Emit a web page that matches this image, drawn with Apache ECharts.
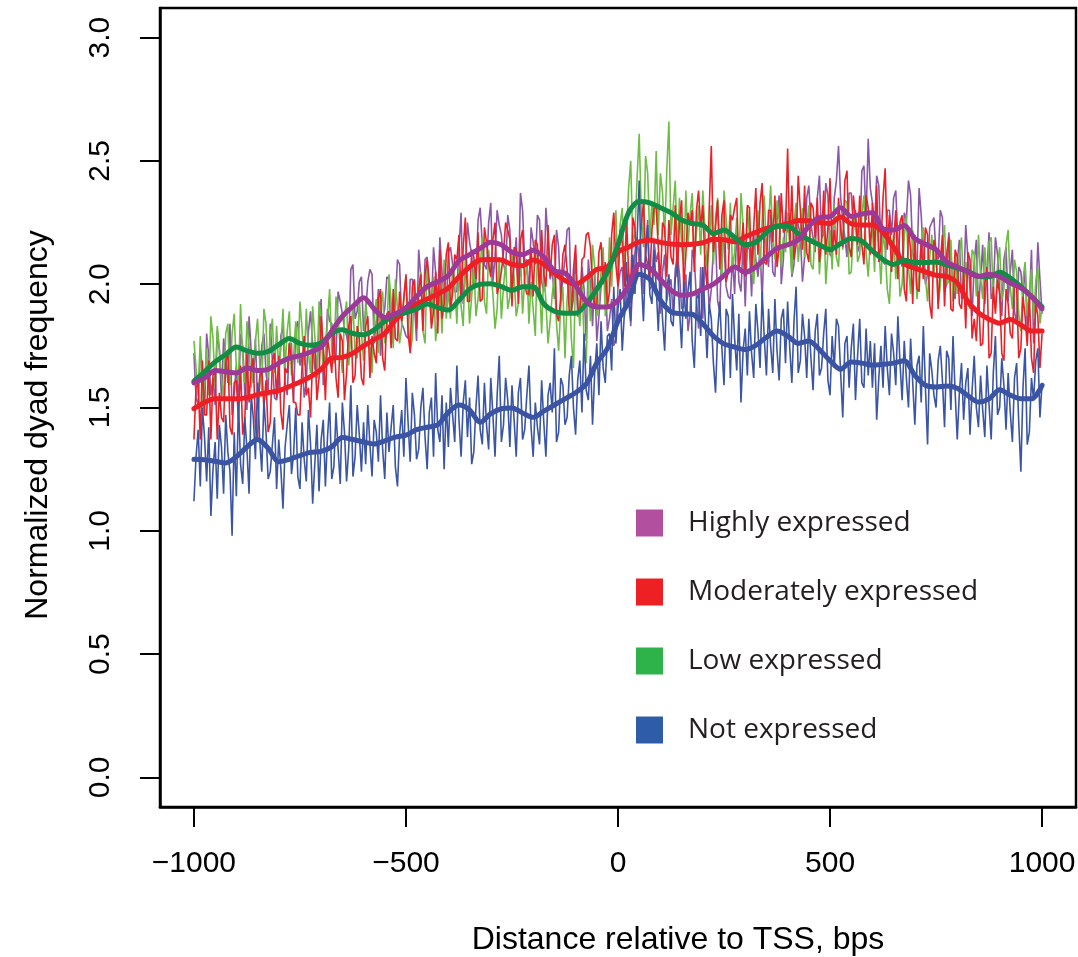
<!DOCTYPE html>
<html>
<head>
<meta charset="utf-8">
<title>Normalized dyad frequency around TSS</title>
<script src="https://cdn.jsdelivr.net/npm/echarts@6/dist/echarts.min.js"></script>
<style>
  html, body { margin: 0; padding: 0; background: #fff; }
  #chart { width: 1078px; height: 957px; }
</style>
</head>
<body>
<div id="chart"></div>
<script>
// raw profiles, one value every 5 bp from -1000 to 1000
var highRaw = [
  1.72,1.54,1.51,1.74,1.66,1.47,1.80,1.71,1.55,1.62,1.51,1.81,1.73,1.54,1.78,1.70,1.60,1.84,1.47,1.56,1.67,1.51,1.80,1.75,1.55,1.49,1.87,1.73,1.60,1.78,1.53,1.61,1.75,1.80,1.64,1.56,1.84,1.69,1.54,1.53,
  1.60,1.79,1.83,1.60,1.55,1.76,1.76,1.52,1.82,1.85,1.67,1.71,1.54,1.60,1.81,1.89,1.75,1.66,1.62,1.83,1.94,1.59,1.70,1.90,1.85,1.84,1.68,1.71,1.97,1.93,1.88,1.82,1.79,1.74,2.06,2.08,1.86,1.89,2.01,2.03,
  1.81,1.89,2.01,2.06,2.04,1.76,1.85,1.98,1.71,1.86,1.90,2.03,2.02,1.76,1.77,1.93,2.10,2.08,1.84,1.82,1.79,1.78,2.02,2.02,1.92,1.77,2.14,2.03,1.85,2.10,2.11,1.95,1.90,2.15,2.05,1.91,2.19,2.05,1.94,1.89,
  2.13,2.15,2.08,1.97,1.97,2.15,2.29,1.92,2.04,2.25,2.17,2.12,1.99,2.01,2.26,2.31,2.16,2.08,2.06,2.25,2.33,2.01,2.11,2.30,2.24,2.20,2.08,2.05,2.28,2.22,1.98,2.08,2.19,1.98,2.37,2.30,2.09,2.10,1.95,2.23,
  2.17,2.08,2.28,2.26,2.01,1.97,2.31,2.18,2.02,2.06,1.94,2.22,2.15,1.94,2.03,2.10,2.22,2.23,1.89,1.94,2.12,1.87,1.87,2.07,1.98,1.77,2.10,2.00,1.83,2.04,1.77,1.87,1.99,2.06,2.04,1.81,1.86,1.94,1.75,1.78,
  1.99,2.05,2.07,1.87,1.94,2.04,1.83,2.02,2.13,2.19,2.10,2.08,1.96,2.14,2.26,1.98,1.99,2.18,2.09,2.13,1.88,2.05,2.12,1.93,1.99,2.02,1.87,2.06,2.12,2.04,1.90,1.91,2.04,1.81,1.88,2.14,2.10,1.94,1.82,2.07,
  1.86,2.12,2.09,1.90,1.98,2.15,2.19,1.93,1.89,2.18,2.16,1.99,1.95,1.94,2.11,1.96,2.24,2.01,1.97,2.17,1.91,2.16,2.14,1.95,2.20,2.10,2.03,2.15,1.93,2.22,2.14,2.07,2.28,2.05,2.03,2.26,2.36,2.00,2.10,2.30,
  2.21,2.27,2.03,2.08,2.30,2.24,2.20,2.01,2.11,2.35,2.40,2.24,2.19,2.13,2.35,2.44,2.19,2.20,2.41,2.36,2.12,2.11,2.35,2.42,2.56,2.35,2.26,2.19,2.11,2.37,2.37,2.23,2.30,2.13,2.16,2.46,2.48,2.26,2.59,2.39,
  2.33,2.23,2.44,2.40,2.15,2.09,2.08,2.30,2.30,2.20,2.35,2.38,2.18,2.12,2.07,2.29,2.26,2.42,2.36,2.13,2.08,2.06,2.39,2.28,2.11,2.00,2.04,2.23,2.25,2.27,2.12,2.10,2.30,2.27,1.97,2.00,2.21,2.12,1.98,1.94,
  2.09,2.18,1.94,1.97,2.24,2.11,1.98,1.87,2.09,2.18,1.89,2.03,2.16,1.92,2.05,2.21,1.94,1.97,2.19,2.12,1.97,1.87,2.10,2.15,1.93,2.05,2.14,1.89,1.84,2.07,2.05,1.94,2.08,1.82,1.92,2.14,1.76,1.91,2.17,2.02,
  1.88
];
var modRaw = [
  1.37,1.58,1.60,1.37,1.69,1.47,1.47,1.69,1.37,1.63,1.65,1.37,1.56,1.46,1.44,1.68,1.73,1.42,1.39,1.60,1.61,1.45,1.67,1.39,1.45,1.72,1.52,1.66,1.70,1.42,1.37,1.62,1.66,1.50,1.61,1.40,1.44,1.69,1.72,1.54,
  1.71,1.48,1.41,1.66,1.64,1.76,1.69,1.52,1.52,1.47,1.47,1.67,1.79,1.55,1.58,1.46,1.71,1.76,1.53,1.62,1.87,1.74,1.53,1.78,1.72,1.64,1.82,1.62,1.54,1.80,1.77,1.53,1.64,1.83,1.87,1.60,1.63,1.83,1.78,1.62,
  1.59,1.83,1.87,1.62,1.79,1.72,1.68,1.94,1.98,1.70,1.65,1.88,1.89,1.74,1.98,1.78,1.77,1.97,1.85,1.94,2.04,1.80,1.72,1.99,2.02,1.82,1.98,2.04,1.81,2.04,2.10,2.01,1.82,1.89,2.05,1.80,2.14,1.86,1.92,2.12,
  2.17,1.90,1.96,2.12,2.10,2.20,1.93,2.15,2.27,1.93,1.93,2.14,2.11,2.02,2.21,1.93,1.94,2.23,2.17,2.08,2.03,2.18,2.25,1.96,2.00,2.05,2.13,2.25,2.22,2.18,1.91,2.15,2.14,1.92,2.18,2.22,2.00,1.96,1.96,2.15,
  1.95,2.18,2.16,1.95,2.22,2.04,1.99,2.24,2.03,2.16,2.20,1.88,1.85,1.95,2.12,2.16,2.06,1.89,1.88,2.06,2.16,1.91,1.88,2.10,2.11,2.20,2.21,2.15,1.99,1.92,1.90,2.13,2.17,2.00,2.09,1.91,1.97,2.20,2.29,2.08,
  1.99,2.22,2.17,1.99,2.27,2.05,2.00,2.27,2.23,2.03,2.10,2.24,2.33,2.12,2.08,2.02,2.22,2.31,2.31,2.15,2.00,2.25,2.23,2.03,2.26,2.11,2.08,2.32,2.03,2.26,2.34,1.99,2.12,2.29,2.24,2.30,2.05,2.30,2.38,2.23,
  2.32,2.08,1.99,2.30,2.56,2.13,2.23,2.34,2.06,2.28,2.34,2.01,2.05,2.28,2.26,2.31,2.35,2.06,2.13,2.25,2.03,2.32,2.31,2.05,2.23,2.39,2.12,2.33,2.41,2.09,2.08,2.30,2.30,2.17,2.36,2.07,2.15,2.37,2.21,2.22,
  2.55,2.16,2.40,2.10,2.16,2.44,2.30,2.14,2.40,2.13,2.09,2.33,2.31,2.19,2.35,2.09,2.17,2.38,2.12,2.23,2.43,2.13,2.22,2.12,2.35,2.22,2.15,2.42,2.46,2.15,2.11,2.36,2.27,2.16,2.36,2.16,2.08,2.36,2.31,2.12,
  2.33,2.12,2.40,2.09,2.16,2.35,2.47,2.14,2.28,2.05,2.17,2.30,2.02,2.25,2.28,1.98,1.93,2.22,2.14,1.92,2.20,1.98,1.97,2.18,2.02,2.23,2.20,1.92,1.86,2.18,2.14,1.90,2.09,2.20,1.91,2.12,2.19,1.90,1.89,2.14,
  2.11,1.92,1.90,2.05,1.82,2.13,2.10,1.78,1.86,1.77,1.97,1.75,1.76,2.00,2.07,1.70,1.72,1.99,1.88,2.02,1.96,1.72,1.69,1.98,1.92,1.80,1.78,2.01,1.99,1.70,1.74,1.95,1.87,1.75,1.96,1.70,1.64,1.93,1.87,1.66,
  1.80
];
var lowRaw = [
  1.77,1.66,1.55,1.79,1.50,1.60,1.74,1.55,1.87,1.78,1.58,1.83,1.74,1.62,1.54,1.80,1.84,1.59,1.80,1.88,1.66,1.61,1.92,1.70,1.60,1.85,1.75,1.58,1.67,1.77,1.86,1.68,1.56,1.90,1.84,1.62,1.79,1.86,1.64,1.83,
  1.65,1.74,1.90,1.66,1.81,1.89,1.63,1.70,1.85,1.68,1.93,1.82,1.67,1.90,1.72,1.64,1.91,1.79,1.62,1.93,1.86,1.66,1.72,1.85,1.98,1.73,1.68,1.95,1.86,1.74,1.64,1.87,1.93,1.67,1.80,1.92,1.72,1.70,1.94,1.80,
  1.69,1.93,1.84,1.75,1.64,1.86,1.94,1.72,1.91,1.97,1.76,1.81,2.04,1.93,1.74,2.02,1.90,1.76,1.83,1.95,2.03,1.85,1.73,1.78,2.01,1.83,1.96,2.05,1.81,1.76,2.08,1.97,1.84,2.03,1.77,1.85,1.99,1.80,2.10,1.86,
  1.98,1.86,2.08,2.00,1.84,2.06,1.91,1.83,2.11,2.04,1.84,1.95,2.09,1.87,1.94,2.07,2.19,1.93,1.88,2.14,2.05,1.96,1.82,1.90,2.11,1.86,1.99,2.09,1.90,1.95,2.12,2.03,1.87,1.92,2.12,1.88,2.02,2.08,1.84,2.01,
  1.90,1.79,2.14,2.01,1.80,2.06,1.93,1.76,1.85,1.96,2.03,1.84,1.73,1.91,1.99,1.70,1.94,2.03,1.78,1.66,2.04,1.95,1.83,2.01,1.77,1.68,2.02,1.85,2.16,2.07,1.87,1.92,2.05,2.15,1.87,1.96,2.19,1.99,2.19,2.30,
  2.02,2.24,2.31,2.05,2.20,2.39,2.50,2.16,2.21,2.43,2.61,2.28,2.15,2.52,2.45,2.18,2.33,2.24,2.54,2.20,2.45,2.37,2.19,2.46,2.66,2.20,2.31,2.42,2.12,2.35,2.15,2.08,2.38,2.16,2.28,2.37,2.10,2.21,2.32,2.12,
  2.38,2.22,2.07,2.16,2.32,2.08,2.27,2.35,2.11,2.02,2.38,2.27,2.14,2.33,2.06,2.13,2.27,2.05,2.37,2.24,2.05,2.31,2.20,2.10,2.00,2.19,2.30,2.06,2.26,2.36,2.12,2.24,2.40,2.18,2.10,2.34,2.26,2.07,2.19,2.13,
  2.29,2.17,2.04,2.25,2.33,2.09,2.20,2.31,2.11,2.24,2.32,2.08,2.06,2.22,2.29,2.04,2.19,2.30,2.00,2.13,2.22,2.06,2.32,2.11,2.07,2.26,2.14,2.34,2.33,2.04,2.05,2.21,2.28,2.09,2.12,2.28,2.36,2.13,2.03,2.18,
  2.23,2.05,2.32,2.16,2.00,2.21,2.14,1.98,1.92,2.13,2.20,2.02,2.16,1.95,2.00,2.19,2.28,2.07,1.96,2.22,2.11,1.94,2.04,2.17,2.23,2.02,1.93,2.11,2.20,2.04,2.15,1.92,1.99,2.16,2.24,2.00,2.01,2.18,1.93,2.12,
  1.96,2.12,2.19,1.97,2.09,1.92,1.90,2.14,2.12,1.95,2.20,2.03,1.94,2.15,2.00,2.17,2.19,1.95,1.90,2.08,2.15,1.94,1.98,2.16,2.22,1.99,1.90,2.10,2.05,1.88,1.81,2.02,2.09,1.87,1.96,2.06,1.86,2.01,2.07,1.84,
  1.91
];
var notRaw = [
  1.12,1.30,1.41,1.18,1.50,1.38,1.20,1.42,1.06,1.25,1.36,1.13,1.43,1.34,1.15,1.47,1.32,1.24,0.98,1.40,1.14,1.52,1.27,1.19,1.46,1.33,1.15,1.55,1.46,1.29,1.60,1.37,1.24,1.53,1.40,1.21,1.24,1.35,1.46,1.17,
  1.37,1.25,1.09,1.34,1.43,1.51,1.23,1.31,1.50,1.22,1.17,1.44,1.29,1.20,1.49,1.35,1.11,1.27,1.43,1.16,1.37,1.45,1.18,1.38,1.52,1.21,1.26,1.48,1.33,1.19,1.52,1.40,1.20,1.33,1.59,1.22,1.30,1.51,1.39,1.24,
  1.44,1.27,1.51,1.35,1.22,1.45,1.40,1.28,1.55,1.33,1.21,1.48,1.32,1.42,1.51,1.26,1.18,1.39,1.49,1.30,1.62,1.44,1.28,1.56,1.47,1.29,1.33,1.50,1.58,1.38,1.25,1.48,1.54,1.30,1.64,1.41,1.36,1.55,1.25,1.52,
  1.34,1.58,1.47,1.36,1.67,1.45,1.30,1.52,1.61,1.38,1.54,1.27,1.32,1.50,1.63,1.41,1.35,1.60,1.43,1.33,1.62,1.47,1.30,1.55,1.71,1.36,1.43,1.62,1.53,1.34,1.59,1.45,1.30,1.56,1.62,1.37,1.41,1.55,1.67,1.42,
  1.30,1.52,1.42,1.35,1.61,1.44,1.30,1.55,1.60,1.48,1.74,1.36,1.40,1.62,1.59,1.43,1.46,1.63,1.71,1.50,1.39,1.61,1.69,1.48,1.80,1.57,1.53,1.71,1.43,1.64,1.76,1.55,1.85,1.66,1.60,1.79,1.80,1.65,1.99,1.76,
  1.90,1.98,1.73,1.88,2.09,1.93,1.85,2.12,1.96,2.18,2.42,2.02,1.85,2.11,2.24,1.96,1.92,2.14,1.99,1.81,2.03,1.86,1.73,1.98,2.04,1.85,1.83,2.02,2.08,1.90,1.74,2.01,1.86,1.97,2.05,1.77,1.66,1.94,1.96,1.79,
  2.07,1.88,1.70,1.92,1.86,1.68,1.56,1.81,1.93,1.74,1.59,1.90,1.87,1.62,1.96,1.78,1.65,1.88,1.52,1.73,1.82,1.63,1.89,1.72,1.62,1.92,1.81,1.66,1.97,1.78,1.63,1.90,1.75,1.64,1.94,1.73,1.61,1.86,1.90,1.68,
  1.93,1.74,1.60,1.85,1.99,1.64,1.69,1.88,1.79,1.62,1.86,1.70,1.57,1.81,1.88,1.63,1.66,1.80,1.90,1.61,1.55,1.79,1.66,1.86,1.83,1.64,1.46,1.76,1.79,1.58,1.74,1.84,1.53,1.71,1.86,1.60,1.58,1.82,1.63,1.77,
  1.58,1.76,1.45,1.62,1.75,1.58,1.83,1.66,1.55,1.80,1.72,1.59,1.87,1.68,1.53,1.77,1.62,1.50,1.78,1.60,1.43,1.67,1.71,1.52,1.83,1.58,1.35,1.72,1.65,1.55,1.50,1.69,1.75,1.61,1.42,1.73,1.70,1.49,1.79,1.56,
  1.37,1.56,1.68,1.45,1.60,1.66,1.39,1.57,1.71,1.50,1.42,1.63,1.49,1.38,1.67,1.51,1.37,1.64,1.79,1.47,1.50,1.70,1.59,1.41,1.64,1.48,1.36,1.62,1.68,1.44,1.24,1.58,1.74,1.35,1.40,1.62,1.53,1.69,1.74,1.46,
  1.60
];

// smoothed profiles, one value every 25 bp from -1000 to 1000
var highSmooth = [1.60,1.62,1.65,1.645,1.64,1.66,1.65,1.655,1.68,1.70,1.71,1.725,1.745,1.81,1.87,1.91,1.945,1.90,1.865,1.88,
  1.905,1.95,1.99,2.01,2.035,2.095,2.12,2.145,2.17,2.16,2.13,2.12,2.138,2.11,2.055,2.045,1.995,1.93,1.908,1.908,
  1.935,1.995,2.08,2.065,2.02,1.975,1.955,1.96,1.98,2.00,2.035,2.07,2.048,2.07,2.11,2.145,2.16,2.18,2.235,2.27,
  2.274,2.31,2.275,2.285,2.29,2.225,2.22,2.238,2.185,2.162,2.14,2.09,2.07,2.05,2.032,2.04,2.03,2.005,1.985,1.95,1.90];
var modSmooth = [1.495,1.52,1.535,1.535,1.535,1.54,1.552,1.56,1.568,1.585,1.603,1.625,1.655,1.70,1.703,1.72,1.75,1.775,1.80,1.855,
  1.89,1.92,1.94,1.96,1.985,2.03,2.07,2.098,2.10,2.098,2.08,2.075,2.098,2.08,2.045,2.015,2.0,2.025,2.06,2.07,
  2.13,2.15,2.172,2.178,2.17,2.163,2.16,2.162,2.168,2.182,2.18,2.172,2.192,2.21,2.226,2.234,2.245,2.258,2.257,2.25,
  2.246,2.272,2.245,2.24,2.24,2.21,2.15,2.083,2.065,2.05,2.036,2.032,2.005,1.93,1.885,1.858,1.842,1.857,1.835,1.81,1.81];
var lowSmooth = [1.607,1.645,1.685,1.715,1.745,1.73,1.72,1.727,1.755,1.78,1.76,1.752,1.762,1.80,1.815,1.80,1.795,1.815,1.85,1.876,
  1.885,1.90,1.92,1.905,1.895,1.935,1.98,2.0,2.002,1.99,1.975,1.99,1.99,1.92,1.89,1.882,1.882,1.92,1.98,2.05,
  2.16,2.29,2.335,2.33,2.31,2.29,2.26,2.246,2.24,2.205,2.22,2.19,2.16,2.17,2.21,2.235,2.235,2.205,2.18,2.16,
  2.14,2.165,2.185,2.175,2.135,2.10,2.08,2.097,2.088,2.088,2.09,2.078,2.065,2.052,2.032,2.03,2.048,2.025,1.99,1.95,1.908];
var notSmooth = [1.29,1.288,1.282,1.275,1.30,1.34,1.37,1.335,1.28,1.29,1.305,1.318,1.322,1.34,1.378,1.37,1.36,1.352,1.365,1.38,
  1.388,1.41,1.42,1.43,1.48,1.51,1.49,1.44,1.475,1.495,1.498,1.478,1.46,1.485,1.51,1.535,1.56,1.595,1.68,1.74,
  1.85,1.93,2.04,2.02,1.935,1.888,1.88,1.878,1.84,1.79,1.758,1.745,1.735,1.752,1.785,1.81,1.79,1.76,1.77,1.735,
  1.69,1.655,1.685,1.68,1.672,1.675,1.68,1.69,1.63,1.59,1.583,1.587,1.578,1.548,1.522,1.535,1.572,1.55,1.535,1.535,1.59];

var groupNames = ['Highly expressed', 'Moderately expressed', 'Low expressed', 'Not expressed'];
var xTicks = [-1000, -500, 0, 500, 1000];
var yTicks = [0, 0.5, 1.0, 1.5, 2.0, 2.5, 3.0];

var font = 'Liberation Sans, Arial, Helvetica, sans-serif';

function toPoints(step, vals) {
  return vals.map(function (v, i) { return [-1000 + step * i, v]; });
}

function rawLine(vals, color) {
  return {
    type: 'line', data: toPoints(5, vals), showSymbol: false, silent: true,
    lineStyle: { color: color, width: 1.6 }, z: 2
  };
}

function smoothLine(name, vals, color) {
  return {
    name: name, type: 'line', data: toPoints(25, vals), showSymbol: false, silent: true,
    smooth: 0.3,
    lineStyle: { color: color, width: 5, cap: 'round', join: 'round' }, z: 3
  };
}

var chart = echarts.init(document.getElementById('chart'));

chart.setOption({
  animation: false,
  backgroundColor: '#fff',
  grid: {
    left: 160, right: 2, top: 8, bottom: 150,
    outerBoundsMode: 'none', containLabel: false,
    show: true, borderColor: '#000', borderWidth: 2.5, backgroundColor: 'transparent'
  },
  legend: {
    left: 636, top: 509, orient: 'vertical', padding: 0,
    itemWidth: 27, itemHeight: 27, itemGap: 41, selectedMode: false,
    icon: 'rect',
    itemStyle: { borderWidth: 0 },
    textStyle: { fontSize: 28, fontFamily: 'Open Sans, Noto Sans, sans-serif', color: '#231f20', padding: [0, 0, 0, 20] },
    data: [
      { name: groupNames[0], itemStyle: { color: '#b24f9f', borderWidth: 0 } },
      { name: groupNames[1], itemStyle: { color: '#ee2024', borderWidth: 0 } },
      { name: groupNames[2], itemStyle: { color: '#2db34a', borderWidth: 0 } },
      { name: groupNames[3], itemStyle: { color: '#2f5ca9', borderWidth: 0 } }
    ]
  },
  xAxis: {
    type: 'value', min: -1080, max: 1080, position: 'bottom',
    name: 'Distance relative to TSS, bps', nameLocation: 'middle', nameGap: 117,
    nameTextStyle: { fontSize: 32, fontFamily: font, color: '#000', padding: [0, 0, 0, 120] },
    axisLine: { show: true, onZero: false, lineStyle: { color: '#000', width: 2.5 } },
    axisTick: { show: true, inside: false, customValues: xTicks, length: 20, lineStyle: { color: '#000', width: 2 } },
    axisLabel: {
      customValues: xTicks, margin: 42, fontSize: 30, fontFamily: font, color: '#000',
      formatter: function (v) { return v < 0 ? '\u2212' + Math.abs(v) : String(v); }
    },
    splitLine: { show: false }
  },
  yAxis: {
    type: 'value', min: -0.12, max: 3.12, position: 'left',
    name: 'Normalized dyad frequency', nameLocation: 'middle', nameGap: 106,
    nameTextStyle: { fontSize: 32, fontFamily: font, color: '#000', padding: [0, 35, 0, 0] },
    axisLine: { show: true, onZero: false, lineStyle: { color: '#000', width: 2.5 } },
    axisTick: { show: true, inside: false, customValues: yTicks, length: 20, lineStyle: { color: '#000', width: 2 } },
    axisLabel: {
      customValues: yTicks, rotate: 90, margin: 44, fontSize: 30, fontFamily: font, color: '#000',
      formatter: function (v) { return v.toFixed(1); }
    },
    splitLine: { show: false }
  },
  series: [
    rawLine(highRaw, '#8b58a8'),
    rawLine(lowRaw, '#6dbd45'),
    rawLine(modRaw, '#ed1f26'),
    rawLine(notRaw, '#3b55a5'),
    smoothLine(groupNames[3], notSmooth, '#3a53a3'),
    smoothLine(groupNames[1], modSmooth, '#ec1f26'),
    smoothLine(groupNames[2], lowSmooth, '#118d45'),
    smoothLine(groupNames[0], highSmooth, '#9c3895')
  ]
});
</script>
</body>
</html>
